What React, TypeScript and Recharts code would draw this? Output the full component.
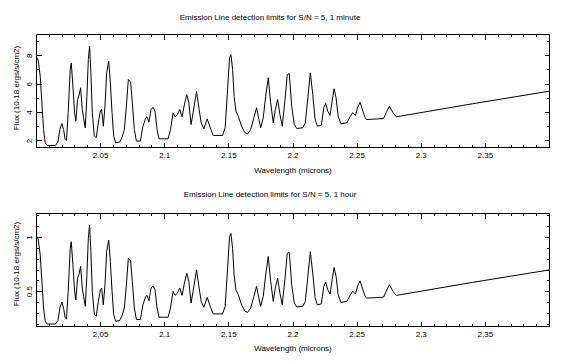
import { Line, LineChart, ReferenceArea, XAxis, YAxis } from "recharts";

// wavelength (microns) of each vertex of the limit curve
const wavelength = [
  2.0, 2.0013, 2.0029, 2.0042, 2.0055, 2.0068, 2.0083, 2.0148, 2.0167, 2.0182,
  2.0198, 2.0211, 2.0224, 2.0234, 2.0247, 2.0263, 2.0271, 2.0284, 2.0297, 2.0307,
  2.032, 2.033, 2.0344, 2.0357, 2.0367, 2.038, 2.0393, 2.0404, 2.0414, 2.0424,
  2.0435, 2.0451, 2.0466, 2.0482, 2.0498, 2.0508, 2.0521, 2.0534, 2.0547, 2.0563,
  2.0576, 2.0589, 2.0602, 2.0617, 2.0648, 2.0666, 2.0685, 2.0701, 2.0716, 2.0734,
  2.0747, 2.0763, 2.0779, 2.081, 2.083, 2.0852, 2.0862, 2.0877, 2.0893, 2.0909,
  2.0924, 2.094, 2.0955, 2.1026, 2.1045, 2.1065, 2.108, 2.1099, 2.1117, 2.1135,
  2.1156, 2.1172, 2.1188, 2.1205, 2.1221, 2.1248, 2.1268, 2.1284, 2.1305, 2.1331,
  2.1352, 2.1378, 2.1451, 2.1471, 2.149, 2.1505, 2.1516, 2.1529, 2.1541, 2.1555,
  2.1573, 2.1599, 2.1625, 2.1646, 2.167, 2.1695, 2.1716, 2.1734, 2.1748, 2.1768,
  2.1787, 2.1807, 2.1826, 2.1846, 2.1862, 2.188, 2.1898, 2.1916, 2.1938, 2.1955,
  2.1971, 2.199, 2.201, 2.2029, 2.2076, 2.2096, 2.2117, 2.2135, 2.2154, 2.2172,
  2.219, 2.2221, 2.224, 2.2255, 2.2271, 2.2289, 2.2305, 2.232, 2.2336, 2.2352,
  2.2373, 2.242, 2.2445, 2.2466, 2.2487, 2.2505, 2.2523, 2.2545, 2.2562, 2.2576,
  2.2706, 2.2727, 2.2752, 2.2779, 2.2805, 2.34, 2.4,
];

// flux limit, S/N = 5 in 1 minute (10-18 ergs/s/cm2)
const fluxMinute = [
  7.9, 7.7, 6.56, 4.69, 2.81, 1.87, 1.68, 1.68, 1.92, 2.81,
  3.23, 2.81, 2.11, 2.04, 3.99, 7.04, 7.5, 5.86, 3.99, 3.39,
  4.92, 5.15, 5.75, 4.22, 3.63, 2.93, 5.15, 7.74, 8.68, 6.8,
  3.99, 2.34, 2.23, 3.28, 4.1, 4.22, 3.04, 4.45, 6.8, 7.62,
  6.1, 3.99, 2.34, 1.87, 1.92, 2.23, 2.81, 4.45, 6.33, 6.14,
  4.69, 2.81, 1.99, 1.99, 3.04, 3.63, 3.7, 3.32, 4.22, 4.38,
  4.1, 2.81, 2.15, 2.15, 2.81, 3.99, 3.7, 3.87, 4.22, 3.7,
  4.69, 5.27, 4.69, 3.16, 3.99, 5.51, 4.22, 3.28, 2.86, 3.56,
  3.0, 2.39, 2.39, 2.93, 5.63, 7.86, 8.09, 7.04, 5.15, 4.1,
  3.75, 3.04, 2.58, 2.5, 2.81, 3.63, 4.34, 3.51, 2.93, 3.63,
  5.15, 6.45, 4.69, 3.28, 4.22, 4.92, 3.87, 3.04, 4.92, 6.68,
  6.75, 4.45, 3.16, 2.88, 2.93, 3.28, 5.15, 6.8, 5.27, 3.56,
  3.04, 3.1, 4.34, 4.64, 4.1, 3.8, 4.81, 5.68, 5.04, 3.75,
  3.21, 3.28, 3.7, 4.0, 3.8, 4.4, 4.73, 4.1, 3.63, 3.51,
  3.58, 4.0, 4.45, 4.0, 3.7, 4.62, 5.51,
];

// flux limit, S/N = 5 in 1 hour
const fluxHour = [
  1.012, 0.986, 0.838, 0.595, 0.35, 0.228, 0.203, 0.203, 0.235, 0.35,
  0.405, 0.35, 0.259, 0.25, 0.504, 0.9, 0.96, 0.747, 0.504, 0.426,
  0.625, 0.655, 0.733, 0.534, 0.457, 0.366, 0.655, 0.991, 1.113, 0.869,
  0.504, 0.289, 0.275, 0.411, 0.518, 0.534, 0.38, 0.564, 0.869, 0.976,
  0.778, 0.504, 0.289, 0.228, 0.235, 0.275, 0.35, 0.564, 0.808, 0.783,
  0.595, 0.35, 0.244, 0.244, 0.38, 0.457, 0.466, 0.417, 0.534, 0.554,
  0.518, 0.35, 0.265, 0.265, 0.35, 0.504, 0.466, 0.488, 0.534, 0.466,
  0.595, 0.67, 0.595, 0.396, 0.504, 0.701, 0.534, 0.411, 0.357, 0.448,
  0.375, 0.296, 0.296, 0.366, 0.717, 1.007, 1.037, 0.9, 0.655, 0.518,
  0.473, 0.38, 0.32, 0.31, 0.35, 0.457, 0.549, 0.441, 0.366, 0.457,
  0.655, 0.824, 0.595, 0.411, 0.534, 0.625, 0.488, 0.38, 0.625, 0.853,
  0.863, 0.564, 0.396, 0.359, 0.366, 0.411, 0.655, 0.869, 0.67, 0.448,
  0.38, 0.388, 0.549, 0.588, 0.518, 0.479, 0.61, 0.723, 0.64, 0.473,
  0.402, 0.411, 0.466, 0.505, 0.479, 0.557, 0.6, 0.518, 0.457, 0.441,
  0.45, 0.505, 0.564, 0.505, 0.466, 0.586, 0.701,
];

const xTicks = [
  2.0, 2.01, 2.02, 2.03, 2.04, 2.05, 2.06, 2.07, 2.08, 2.09, 2.1, 2.11, 2.12, 2.13,
  2.14, 2.15, 2.16, 2.17, 2.18, 2.19, 2.2, 2.21, 2.22, 2.23, 2.24, 2.25, 2.26,
  2.27, 2.28, 2.29, 2.3, 2.31, 2.32, 2.33, 2.34, 2.35, 2.36, 2.37, 2.38, 2.39, 2.4,
];
const xLabels = [2.05, 2.1, 2.15, 2.2, 2.25, 2.3, 2.35];

const yTicksMinute = [2, 3, 4, 5, 6, 7, 8, 9];
const yLabelsMinute = [2, 4, 6, 8];
const yTicksHour = [0.2, 0.3, 0.4, 0.5, 0.6, 0.7, 0.8, 0.9, 1, 1.1, 1.2];
const yLabelsHour = [0.5, 1];

const FONT = "Liberation Sans";
const W = 566;
const H = 182;
const PLOT_W = 513;
const PLOT_H = 113;

const near = (list: number[], v: number) => list.some((l) => Math.abs(l - v) < 1e-6);

const XTick = (props: any) => {
  const { x, y, payload } = props;
  const v = payload.value;
  const label = near(xLabels, v);
  const major = label || Math.abs(v - 2.0) < 1e-6 || Math.abs(v - 2.4) < 1e-6;
  const len = major ? 5 : 2.5;
  return (
    <g shapeRendering="crispEdges">
      <line x1={x} x2={x} y1={y} y2={y - len} stroke="#000" />
      <line x1={x} x2={x} y1={y - PLOT_H} y2={y - PLOT_H + len} stroke="#000" />
      {label && (
        <text x={x} y={y + 10.5} textAnchor="middle" fontSize={8} fontFamily={FONT} fill="#000">
          {String(v)}
        </text>
      )}
    </g>
  );
};

const makeYTick = (labels: number[]) => (props: any) => {
  const { x, y, payload } = props;
  const v = payload.value;
  const label = near(labels, v);
  const len = label ? 5 : 2.5;
  return (
    <g shapeRendering="crispEdges">
      <line x1={x} x2={x + len} y1={y} y2={y} stroke="#000" />
      <line x1={x + PLOT_W - len} x2={x + PLOT_W} y1={y} y2={y} stroke="#000" />
      {label && (
        <text
          x={x - 4.5}
          y={y}
          textAnchor="middle"
          fontSize={8}
          fontFamily={FONT}
          fill="#000"
          transform={`rotate(-90, ${x - 4.5}, ${y})`}
        >
          {String(v)}
        </text>
      )}
    </g>
  );
};

const LimitPanel = ({
  values,
  domain,
  ticks,
  labels,
  margin,
}: {
  values: number[];
  domain: [number, number];
  ticks: number[];
  labels: number[];
  margin: { top: number; right: number; bottom: number; left: number };
}) => {
  const data = wavelength.map((w, i) => ({ w, flux: values[i] }));
  return (
    <LineChart width={W} height={H} data={data} margin={margin}>
      <XAxis
        type="number"
        dataKey="w"
        domain={[2.0, 2.4]}
        ticks={xTicks}
        interval={0}
        allowDataOverflow
        height={1}
        tickSize={0}
        tickMargin={0}
        axisLine={false}
        tickLine={false}
        tick={XTick}
      />
      <YAxis
        type="number"
        domain={domain}
        ticks={ticks}
        interval={0}
        allowDataOverflow
        width={1}
        tickSize={0}
        tickMargin={0}
        axisLine={false}
        tickLine={false}
        tick={makeYTick(labels)}
      />
      <ReferenceArea
        x1={2.0}
        x2={2.4}
        y1={domain[0]}
        y2={domain[1]}
        fill="none"
        stroke="#000"
        strokeWidth={1}
        fillOpacity={0}
        ifOverflow="visible"
      />
      <Line
        type="linear"
        dataKey="flux"
        stroke="#000"
        strokeWidth={1}
        dot={false}
        isAnimationActive={false}
      />
    </LineChart>
  );
};

const textStyle = { fontFamily: FONT, fontSize: 8, fill: "#000" };

export default function App() {
  return (
    <div style={{ position: "absolute", left: 0, top: 0, width: 566, height: 364, background: "#fff" }}>
      <div style={{ position: "absolute", left: 0, top: 0 }}>
        <LimitPanel
          values={fluxMinute}
          domain={[1.54, 9.5]}
          ticks={yTicksMinute}
          labels={yLabelsMinute}
          margin={{ top: 34.5, right: 16.5, bottom: 33.5, left: 35.5 }}
        />
      </div>
      <div style={{ position: "absolute", left: 0, top: 182 }}>
        <LimitPanel
          values={fluxHour}
          domain={[0.18, 1.22]}
          ticks={yTicksHour}
          labels={yLabelsHour}
          margin={{ top: 31.5, right: 16.5, bottom: 36.5, left: 35.5 }}
        />
      </div>
      <svg width={566} height={364} style={{ position: "absolute", left: 0, top: 0, pointerEvents: "none" }}>
        <text x={270} y={19.5} textAnchor="middle" {...textStyle}>
          Emission Line detection limits for S/N = 5, 1 minute
        </text>
        <text x={293} y={173} textAnchor="middle" {...textStyle}>
          Wavelength (microns)
        </text>
        <text x={19} y={88} textAnchor="middle" transform="rotate(-90, 19, 88)" {...textStyle}>
          Flux (10-18 ergs/s/cm2)
        </text>
        <text x={270} y={197} textAnchor="middle" {...textStyle}>
          Emission Line detection limits for S/N = 5, 1 hour
        </text>
        <text x={293} y={351} textAnchor="middle" {...textStyle}>
          Wavelength (microns)
        </text>
        <text x={19} y={264} textAnchor="middle" transform="rotate(-90, 19, 264)" {...textStyle}>
          Flux (10-18 ergs/s/cm2)
        </text>
      </svg>
    </div>
  );
}
